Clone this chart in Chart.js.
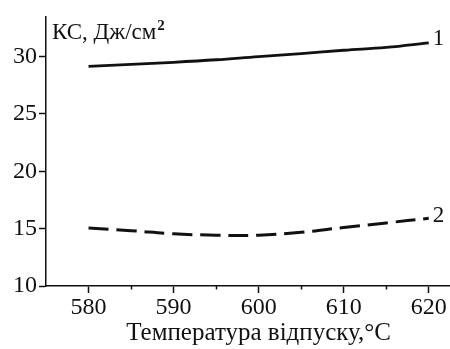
<!DOCTYPE html>
<html>
<head>
<meta charset="utf-8">
<script src="https://cdn.jsdelivr.net/npm/chart.js@4/dist/chart.umd.min.js"></script>
<style>
html,body{margin:0;padding:0;background:#fff;}
#wrap{width:450px;height:349px;position:relative;}
</style>
</head>
<body>
<div id="wrap"><canvas id="c" width="450" height="349"></canvas></div>
<script>
const temps = [580, 585, 590, 595, 600, 605, 610, 615, 620];
const series1 = [29.15, 29.32, 29.5, 29.72, 30.0, 30.25, 30.55, 30.8, 31.2];
const series2 = [15.05, 14.82, 14.55, 14.43, 14.43, 14.68, 15.1, 15.5, 15.9];
const seriesLabels = ['1', '2'];
const xTicks = [580, 590, 600, 610, 620];
const xMinorTicks = [585, 595, 605, 615];
const yTicks = [10, 15, 20, 25, 30];
const xTitle = 'Температура відпуску,°C';
const yTitleMain = 'КС, Дж/см';
const yTitleSup = '2';

const FONT = '"Liberation Serif", "Times New Roman", serif';

const textPlugin = {
  id: 'texts',
  afterDatasetsDraw(chart) {
    const ctx = chart.ctx;
    const xs = chart.scales.x;
    ctx.save();
    ctx.fillStyle = '#111';
    ctx.strokeStyle = '#111';
    ctx.lineWidth = 1.5;
    const yb = chart.chartArea.bottom;
    xMinorTicks.forEach(v => {
      const px = Math.round(xs.getPixelForValue(v)) + 0.5;
      ctx.beginPath();
      ctx.moveTo(px, yb);
      ctx.lineTo(px, yb + 3.5);
      ctx.stroke();
    });
    ctx.font = '25px ' + FONT;
    ctx.textAlign = 'center';
    ctx.textBaseline = 'alphabetic';
    ctx.fillText(xTitle, xs.getPixelForValue(600), 340);
    ctx.font = '23px ' + FONT;
    ctx.textAlign = 'left';
    ctx.fillText(yTitleMain, 52, 39);
    const w = ctx.measureText(yTitleMain).width;
    ctx.font = 'bold 15px ' + FONT;
    ctx.fillText(yTitleSup, 52 + w + 1, 30);
    ctx.font = '23px ' + FONT;
    chart.data.datasets.forEach((ds, i) => {
      const meta = chart.getDatasetMeta(i);
      const last = meta.data[meta.data.length - 1];
      ctx.fillText(seriesLabels[i], last.x + 4, last.y + (i === 0 ? 2 : 4));
    });
    ctx.restore();
  }
};

new Chart(document.getElementById('c'), {
  type: 'line',
  data: {
    datasets: [
      {
        data: temps.map((t, i) => ({x: t, y: series1[i]})),
        borderColor: '#111',
        borderWidth: 2.8,
        pointRadius: 0,
        tension: 0.4,
        fill: false
      },
      {
        data: temps.map((t, i) => ({x: t, y: series2[i]})),
        borderColor: '#111',
        borderWidth: 3,
        borderDash: [20, 8],
        pointRadius: 0,
        tension: 0.4,
        fill: false
      }
    ]
  },
  options: {
    responsive: false,
    animation: false,
    devicePixelRatio: 1,
    layout: {padding: {top: 13, right: 0, left: 0, bottom: 0}},
    plugins: {legend: {display: false}, tooltip: {enabled: false}},
    scales: {
      x: {
        type: 'linear',
        min: 575,
        max: 622.5,
        afterBuildTicks(s) { s.ticks = xTicks.map(v => ({value: v})); },
        afterFit(s) { s.height = 63; },
        grid: {drawOnChartArea: false, drawTicks: true, tickLength: 7, tickColor: '#111', tickWidth: 1.5},
        border: {display: true, color: '#111', width: 1.5},
        ticks: {color: '#111', font: {family: FONT, size: 24}, padding: 0, maxRotation: 0}
      },
      y: {
        type: 'linear',
        min: 10,
        max: 33.5,
        afterBuildTicks(s) { s.ticks = yTicks.map(v => ({value: v})); },
        afterFit(s) { s.width = 46; },
        grid: {drawOnChartArea: false, drawTicks: true, tickLength: 7, tickColor: '#111', tickWidth: 1.5},
        border: {display: true, color: '#111', width: 1.5},
        ticks: {color: '#111', font: {family: FONT, size: 24}, padding: 2}
      }
    }
  },
  plugins: [textPlugin]
});
</script>
</body>
</html>
